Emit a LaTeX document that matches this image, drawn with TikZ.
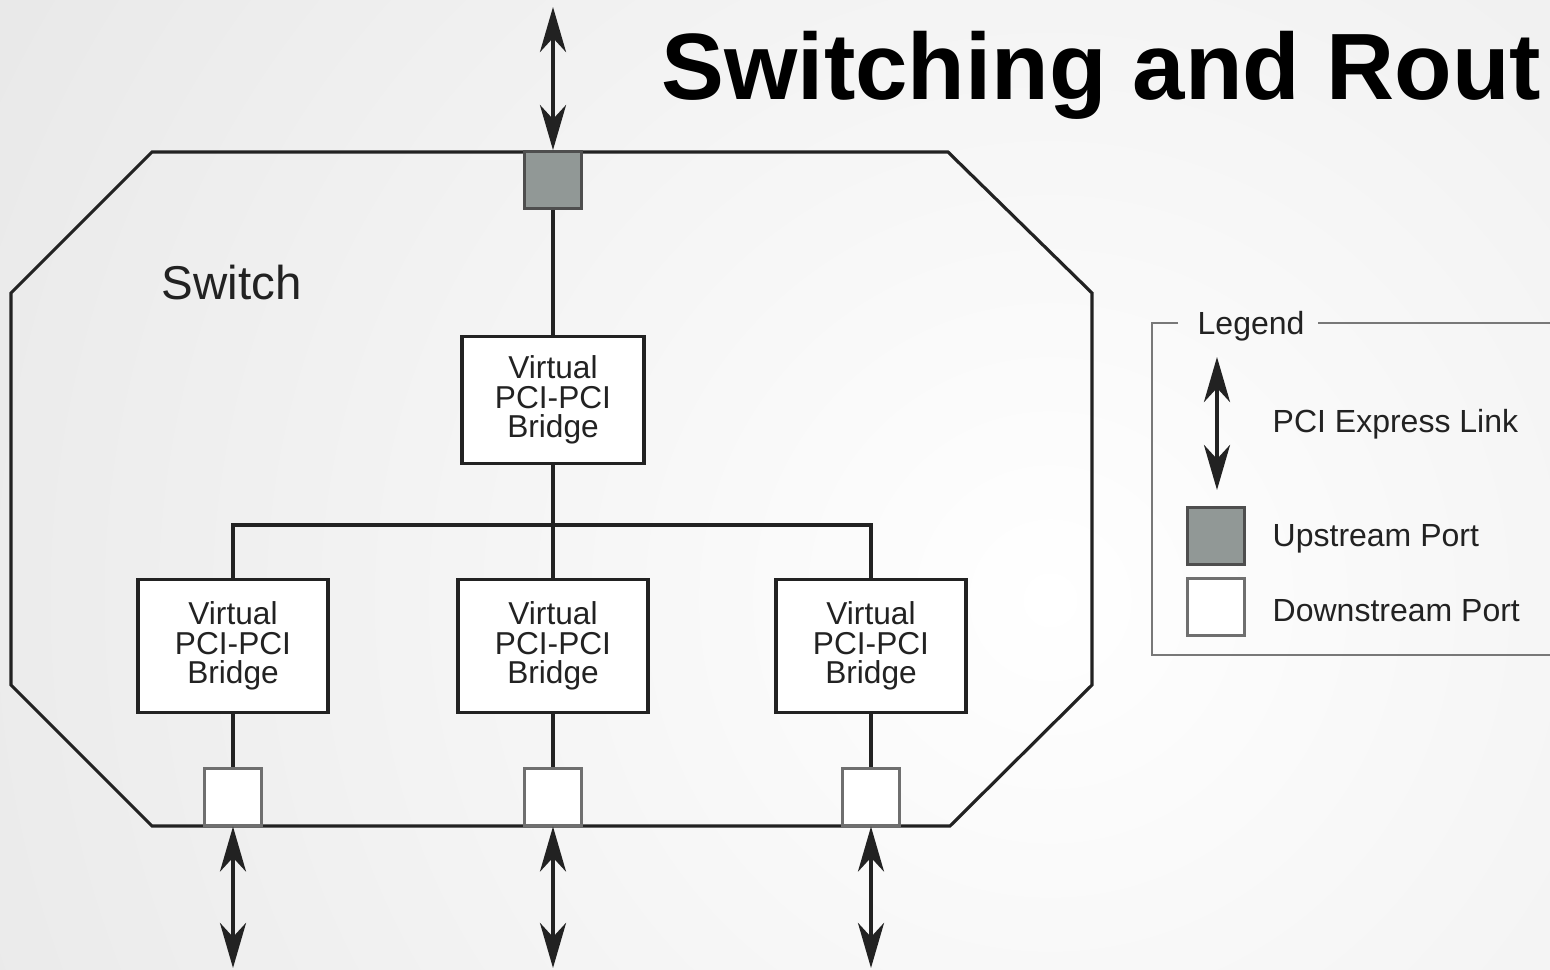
\documentclass[tikz,border=0pt]{standalone}
\usepackage{fontspec}
\setmainfont{Liberation Sans}
\usepackage{xcolor}
\usepackage{tikz}
\usetikzlibrary{arrows.meta,positioning}
\definecolor{bggray}{RGB}{218,218,218}
\definecolor{portgray}{RGB}{145,152,150}
\definecolor{ink}{RGB}{34,34,34}
\definecolor{legline}{RGB}{120,120,120}

\begin{document}
\begin{tikzpicture}[x=0.01cm, y=-0.01cm, >={Stealth[length=4.5mm,width=2.6mm,inset=1.4mm]}]
\tikzstyle{bridge}=[draw=ink, line width=0.9pt, fill=white, minimum width=19mm, minimum height=13.3mm, align=center, inner sep=0pt, font=\fontsize{9}{8.4}\selectfont, text=ink]
\tikzstyle{uport}=[draw=ink!80, line width=0.8pt, fill=portgray, minimum size=5.7mm, inner sep=0pt]
\tikzstyle{dport}=[draw=ink!65, line width=0.6pt, fill=white, minimum size=5.7mm, inner sep=0pt]
\tikzstyle{wire}=[draw=ink, line width=1.1pt]
\tikzstyle{link}=[draw=ink, line width=1.2pt, <->]
\tikzstyle{lbl}=[font=\fontsize{9.1}{10}\selectfont, text=ink, anchor=base west, inner sep=0pt]

% page and shaded background
\clip (0,0) rectangle (1550,970);
\fill[inner color=white, outer color=bggray] (1050,600) circle (2000);

% title
\node[font=\fontsize{26.8}{30}\selectfont\bfseries, text=black, anchor=base west, inner sep=0pt] (title) at (661,100) {Switching and Rout};

% switch outline
\draw[ink, line width=0.9pt] (152,152) -- (948,152) -- (1092,293) -- (1092,685) -- (950,826) -- (152,826) -- (11,685) -- (11,293) -- cycle;
\node[font=\fontsize{13.5}{16}\selectfont, text=ink, anchor=base west, inner sep=0pt] (sw) at (161,300) {Switch};

% ports and bridges
\node[uport] (up) at (553,180) {};
\node[bridge, minimum width=18.2mm, minimum height=12.7mm] (b0) at (553,400) {Virtual\\PCI-PCI\\Bridge};
\node[bridge] (b1) at (233,646) {Virtual\\PCI-PCI\\Bridge};
\node[bridge] (b2) at (553,646) {Virtual\\PCI-PCI\\Bridge};
\node[bridge] (b3) at (871,646) {Virtual\\PCI-PCI\\Bridge};
\node[dport] (d1) at (233,797) {};
\node[dport] (d2) at (553,797) {};
\node[dport] (d3) at (871,797) {};
\coordinate (bus) at (553,525);

\draw[wire] (up) -- (b0);
\draw[wire] (b0) -- (b2);
\draw[wire] (b1.north) |- (bus) -| (b3.north);
\foreach \i in {1,2,3} {
  \draw[wire] (b\i) -- (d\i);
}

% links
\coordinate (t0) at (553,7);
\coordinate (e1) at (233,968);
\coordinate (e2) at (553,968);
\coordinate (e3) at (871,968);
\draw[link] (t0) -- (up.north);
\foreach \i in {1,2,3} {
  \draw[link] (d\i.south) -- (e\i);
}

% legend
\draw[legline, line width=0.7pt] (1178,323) -- (1152,323) -- (1152,655) -- (1560,655);
\draw[legline, line width=0.7pt] (1318,323) -- (1560,323);
\node[lbl] (leg) at (1197,335) {Legend};
\coordinate (la) at (1217,357);
\coordinate (lb) at (1217,490);
\draw[link] (la) -- (lb);
\node[lbl] (llink) at (1272,433) {PCI Express Link};
\node[uport] (lup) at (1216,536) {};
\node[dport] (ldown) at (1216,607) {};
\node[lbl] (lupt) at (1272,547) {Upstream Port};
\node[lbl] (ldownt) at (1272,622) {Downstream Port};
\end{tikzpicture}
\end{document}
